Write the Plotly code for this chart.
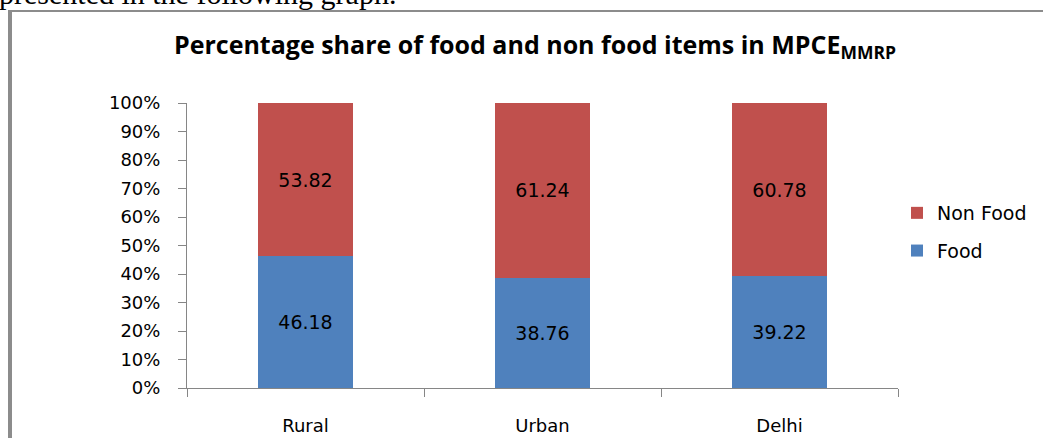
import plotly.graph_objects as go

categories = ["Rural", "Urban", "Delhi"]
food = [46.18, 38.76, 39.22]
non_food = [53.82, 61.24, 60.78]
y_ticks = [0, 10, 20, 30, 40, 50, 60, 70, 80, 90, 100]
y_tick_labels = [f"{v}%" for v in y_ticks]

W, H = 1043, 438
L, R, T, B = 187, 145, 103, 50
pw, ph = W - L - R, H - T - B


def px_x(px):
    return (px - L) / pw


def px_y(py):
    return (H - B - py) / ph


AX = "DejaVu Sans"

fig = go.Figure()
fig.add_trace(go.Bar(
    x=categories, y=food, name="Food", marker_color="#4F81BD",
    marker_line_width=0, width=0.405, legendrank=2, legendgroup="f",
    texttemplate="%{y:.2f}", textposition="inside", insidetextanchor="middle",
    textangle=0, constraintext="none",
    textfont=dict(family=AX, size=19, color="#000000"),
))
fig.add_trace(go.Bar(
    x=categories, y=non_food, name="Non Food", marker_color="#C0504D",
    marker_line_width=0, width=0.405, legendrank=1, legendgroup="n",
    texttemplate="%{y:.2f}", textposition="inside", insidetextanchor="middle",
    textangle=0, constraintext="none",
    textfont=dict(family=AX, size=19, color="#000000"),
))

fig.update_layout(
    width=W, height=H,
    margin=dict(l=L, r=R, t=T, b=B, autoexpand=False),
    barmode="stack",
    paper_bgcolor="white", plot_bgcolor="white",
    title=dict(
        text="<b>Percentage share of food and non food items in MPCE<sub>MMRP</sub></b>",
        font=dict(family="Open Sans", size=25, color="#000000"),
        x=535 / W, xanchor="center", xref="container",
        y=1 - 45 / H, yanchor="middle", yref="container",
    ),
    legend=dict(
        x=px_x(897), xanchor="left", y=px_y(194), yanchor="top",
        traceorder="grouped",
        font=dict(family=AX, size=19, color="#000000"),
        bgcolor="rgba(0,0,0,0)",
        tracegroupgap=10,
    ),
    xaxis=dict(
        showline=True, linecolor="#868686", linewidth=1,
        ticks="outside", ticklen=8, tickcolor="#868686", tickson="boundaries",
        tickfont=dict(family=AX, size=18, color="#000000"),
        ticklabelstandoff=21,
        showgrid=False,
    ),
    yaxis=dict(
        range=[0, 100], tickmode="array", tickvals=y_ticks, ticktext=y_tick_labels,
        showline=True, linecolor="#868686", linewidth=1,
        ticks="outside", ticklen=8, tickcolor="#868686",
        tickfont=dict(family=AX, size=18, color="#000000"),
        ticklabelstandoff=14,
        showgrid=False, zeroline=False,
    ),
    shapes=[
        dict(type="line", xref="paper", yref="paper",
             x0=px_x(10), x1=px_x(1050), y0=px_y(11), y1=px_y(11),
             line=dict(color="#8C8C8C", width=2)),
        dict(type="line", xref="paper", yref="paper",
             x0=px_x(10), x1=px_x(10), y0=px_y(10), y1=px_y(445),
             line=dict(color="#8C8C8C", width=4)),
    ],
    annotations=[
        dict(text="presented in the following graph.", xref="paper", yref="paper",
             x=px_x(-3), y=px_y(12), xanchor="left", yanchor="bottom",
             showarrow=False,
             font=dict(family="Liberation Serif", size=30, color="#000000")),
    ],
)

fig.write_html(
    "out.html",
    config={"displayModeBar": False},
    post_script="document.body.style.margin='0';document.body.style.overflow='hidden';",
)
